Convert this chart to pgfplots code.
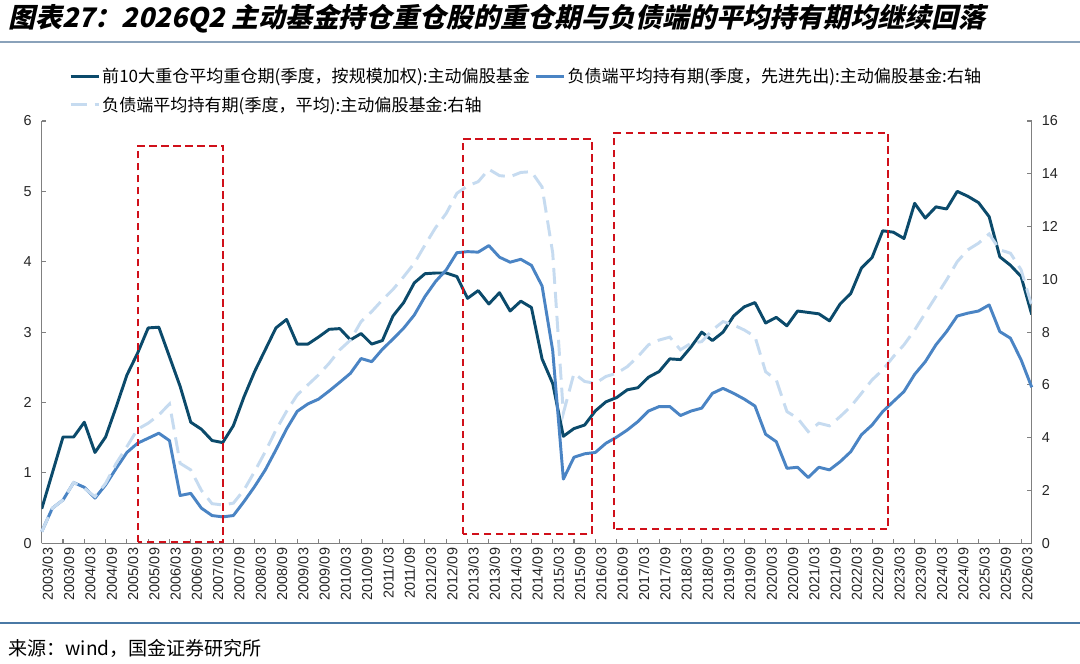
\documentclass[border=0pt]{standalone}
\usepackage{fontspec}
\setmainfont{Liberation Sans}
\newfontfamily\cjk{Noto Sans CJK SC}
\newfontfamily\cjkti{Noto Sans CJK SC}[FakeSlant=0.22]
\usepackage{pgfplots}
\pgfplotsset{compat=1.18}
\usepackage{pgfplotstable}

\definecolor{cdark}{HTML}{0B4A6B}
\definecolor{cblue}{HTML}{4A84C4}
\definecolor{clight}{HTML}{C6DBF0}
\definecolor{cred}{HTML}{D0101A}
\definecolor{caxis}{HTML}{808080}
\definecolor{crulet}{HTML}{8AA2BA}
\definecolor{cruleb}{HTML}{4A79A5}

\pgfplotstableread{
i dark blue light
0 0.49 0.44 0.44
1 1.00 1.33 1.33
2 1.51 1.64 1.64
3 1.51 2.30 2.30
4 1.72 2.12 2.08
5 1.29 1.71 1.77
6 1.51 2.21 2.27
7 1.94 2.84 3.03
8 2.39 3.44 3.66
9 2.70 3.79 4.32
10 3.06 3.98 4.55
11 3.07 4.17 4.86
12 2.65 3.89 5.28
13 2.23 1.81 3.03
14 1.72 1.89 2.78
15 1.62 1.33 2.00
16 1.46 1.05 1.50
17 1.43 1.00 1.45
18 1.67 1.05 1.52
19 2.08 1.58 2.02
20 2.44 2.15 2.72
21 2.75 2.78 3.47
22 3.06 3.54 4.29
23 3.18 4.33 5.00
24 2.83 5.00 5.62
25 2.83 5.28 6.00
26 2.93 5.46 6.38
27 3.04 5.77 6.82
28 3.05 6.10 7.33
29 2.89 6.44 7.70
30 2.98 7.00 8.40
31 2.83 6.88 8.78
32 2.88 7.35 9.22
33 3.23 7.74 9.62
34 3.42 8.15 10.10
35 3.70 8.65 10.61
36 3.83 9.35 11.30
37 3.84 9.92 11.96
38 3.84 10.36 12.50
39 3.79 11.01 13.26
40 3.48 11.05 13.54
41 3.59 11.03 13.70
42 3.40 11.28 14.17
43 3.56 10.84 13.93
44 3.30 10.65 13.89
45 3.44 10.76 14.05
46 3.35 10.53 14.08
47 2.62 9.75 13.50
48 2.27 7.30 11.00
49 1.52 2.43 4.93
50 1.63 3.26 6.44
51 1.68 3.39 6.13
52 1.88 3.44 6.06
53 2.01 3.79 6.32
54 2.07 4.02 6.44
55 2.18 4.29 6.69
56 2.21 4.61 7.07
57 2.36 5.01 7.52
58 2.44 5.18 7.70
59 2.62 5.18 7.81
60 2.61 4.84 7.33
61 2.79 5.01 7.58
62 3.00 5.12 7.64
63 2.88 5.68 8.08
64 3.00 5.87 8.40
65 3.23 5.68 8.27
66 3.36 5.46 8.08
67 3.42 5.20 7.83
68 3.13 4.13 6.50
69 3.21 3.85 6.19
70 3.09 2.84 4.99
71 3.30 2.88 4.74
72 3.28 2.49 4.23
73 3.26 2.88 4.55
74 3.16 2.78 4.45
75 3.40 3.09 4.80
76 3.55 3.47 5.18
77 3.91 4.11 5.68
78 4.06 4.48 6.19
79 4.44 4.99 6.57
80 4.42 5.37 7.07
81 4.33 5.75 7.52
82 4.83 6.40 8.08
83 4.62 6.88 8.72
84 4.78 7.52 9.35
85 4.75 8.02 9.98
86 5.00 8.61 10.67
87 4.93 8.72 11.12
88 4.84 8.80 11.37
89 4.64 9.03 11.72
90 4.07 8.02 11.12
91 3.95 7.77 10.99
92 3.79 6.95 10.36
93 3.25 5.91 9.00
}\data

\pgfplotsset{
  common/.style={
    at={(31.3pt,89.8pt)}, anchor=south west, scale only axis,
    width=742.5pt, height=316.7pt, xmin=0, xmax=93,
    axis line style={caxis, line width=0.8pt},
    tick style={caxis, line width=0.8pt},
    tick align=inside, major tick length=3.5pt,
    /pgf/number format/assume math mode=true,
    tick label style={font=\fontsize{10.8pt}{12pt}\selectfont, text=black!85},
  }
}

\begin{document}
\begin{tikzpicture}
\useasboundingbox (0,0) rectangle (810pt,497.25pt);
\fill[white] (0,0) rectangle (810pt,497.25pt);

\node[anchor=west, font=\cjkti\bfseries\fontsize{20.2pt}{24pt}\selectfont, inner sep=0] at (6pt,483pt)
  {图表27：2026Q2 主动基金持仓重仓股的重仓期与负债端的平均持有期均继续回落};
\draw[crulet, line width=1.8pt] (0,465.75pt) -- (810pt,465.75pt);
\draw[cruleb, line width=1pt] (0,30pt) -- (810pt,30pt);
\node[anchor=west, font=\cjk\fontsize{14.3pt}{16pt}\selectfont, inner sep=0] at (6pt,11.25pt)
  {来源：wind，国金证券研究所};

\begin{axis}[common,
  ymin=0, ymax=6, ytick={0,1,...,6},
  axis y line*=left, axis x line*=bottom,
  yticklabel style={xshift=-4pt},
  xtick={0,2,...,92},
  xticklabels={2003/03,2003/09,2004/03,2004/09,2005/03,2005/09,2006/03,2006/09,2007/03,2007/09,2008/03,2008/09,2009/03,2009/09,2010/03,2010/09,2011/03,2011/09,2012/03,2012/09,2013/03,2013/09,2014/03,2014/09,2015/03,2015/09,2016/03,2016/09,2017/03,2017/09,2018/03,2018/09,2019/03,2019/09,2020/03,2020/09,2021/03,2021/09,2022/03,2022/09,2023/03,2023/09,2024/03,2024/09,2025/03,2025/09,2026/03},
  xticklabel style={rotate=90, anchor=east, yshift=-4.5pt},
]
\addplot[cdark, line width=2.2pt, line join=round] table[x=i, y=dark]{\data};
\end{axis}

\begin{axis}[common,
  ymin=0, ymax=16, ytick={0,2,...,16},
  axis y line*=right, axis x line=none, xtick=\empty,
  yticklabel style={xshift=4pt},
  clip=false,
  legend columns=2,
  legend cell align=left,
  legend image code/.code={\draw[#1] (0pt,0pt) -- (21pt,0pt);},
  legend style={at={(axis description cs:0.0235,1.137)}, anchor=north west,
    draw=none, fill=none, font=\cjk\fontsize{12.8pt}{15pt}\selectfont,
    row sep=6pt, nodes={inner sep=1.5pt},
    /tikz/every even column/.append style={column sep=2pt}},
]
\addlegendimage{cdark, line width=2.2pt}
\addlegendentry{前10大重仓平均重仓期(季度，按规模加权):主动偏股基金}
\addplot[cblue, line width=2.2pt, line join=round] table[x=i, y=blue]{\data};
\addlegendentry{负债端平均持有期(季度，先进先出):主动偏股基金:右轴}
\addplot[clight, line width=2.2pt, dash pattern=on 12pt off 6pt] table[x=i, y=light]{\data};
\addlegendentry{负债端平均持有期(季度，平均):主动偏股基金:右轴}

\draw[cred, line width=1.5pt, dash pattern=on 5.5pt off 3.5pt] (axis cs:9.07,0.03) rectangle (axis cs:17.07,15.07);
\draw[cred, line width=1.5pt, dash pattern=on 5.5pt off 3.5pt] (axis cs:39.55,0.35) rectangle (axis cs:51.67,15.33);
\draw[cred, line width=1.5pt, dash pattern=on 5.5pt off 3.5pt] (axis cs:53.79,0.53) rectangle (axis cs:79.53,15.55);
\end{axis}
\end{tikzpicture}
\end{document}
